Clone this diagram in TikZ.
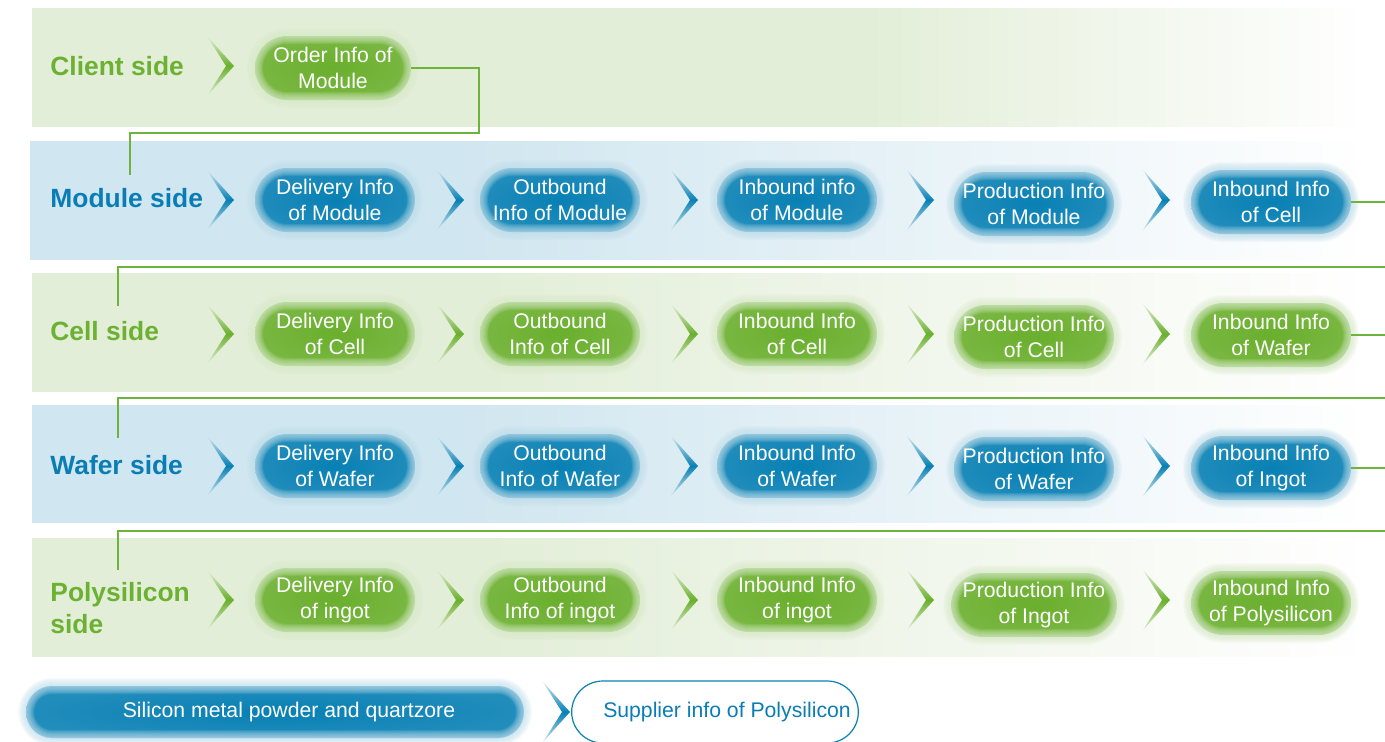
\documentclass[tikz,border=0pt]{standalone}
\usepackage{fontspec}
\setmainfont{Liberation Sans}
\usetikzlibrary{shapes.misc,fadings}

\definecolor{gD}{RGB}{106,175,45}
\definecolor{bD}{RGB}{8,128,180}
\definecolor{gT}{RGB}{108,177,50}
\definecolor{bT}{RGB}{10,126,180}
\definecolor{bgG}{RGB}{226,238,215}
\definecolor{bgB}{RGB}{208,230,240}
\definecolor{linkc}{RGB}{110,180,60}

\newcommand{\pillfont}{\fontsize{10.6}{13}\selectfont}
\newcommand{\chev}[3]{\shade[top color=#3!20!white, bottom color=#3!20!white, middle color=#3] (#1,#2-30) -- (#1+27,#2) -- (#1,#2+30) -- (#1+19,#2) -- cycle;}

\begin{document}
\begin{tikzpicture}[x=0.5pt, y=-0.5pt,
        soft/.style={postaction={draw=#1, line width=8pt, opacity=.14},
          postaction={draw=#1, line width=7pt, opacity=.14},
          postaction={draw=#1, line width=6pt, opacity=.14},
          postaction={draw=#1, line width=5pt, opacity=.14},
          postaction={draw=#1, line width=4pt, opacity=.14},
          postaction={draw=#1, line width=3pt, opacity=.14},
          postaction={draw=#1, line width=2pt, opacity=.14},
          postaction={draw=#1, line width=1pt, opacity=.2}},
        pill/.style={rounded rectangle, minimum width=82pt, minimum height=32pt, inner sep=1pt,
          align=center, text=white, font=\pillfont, inner color=#1, outer color=#1!90!white,
          soft=#1!25!white},
        side/.style={anchor=west, align=left, inner sep=0pt, text=#1, font=\fontsize{13.2}{16}\selectfont\bfseries},
        link/.style={draw=linkc, line width=0.8pt}]
        \useasboundingbox (0,0) rectangle (1385,741);
        % bands
        \fill[bgG] (32,8) rectangle (1356,127);
        \fill[white, path fading=west] (850,8) rectangle (1357,127);
        \fill[bgB] (30,141) rectangle (1356,260);
        \fill[white, path fading=west] (450,141) rectangle (1357,260);
        \fill[bgG] (32,273) rectangle (1356,392);
        \fill[white, path fading=west] (450,273) rectangle (1357,392);
        \fill[bgB] (32,405) rectangle (1356,523);
        \fill[white, path fading=west] (450,405) rectangle (1357,523);
        \fill[bgG] (32,538) rectangle (1356,657);
        \fill[white, path fading=west] (450,538) rectangle (1357,657);

        % side labels
        \node[side=gT] (client) at (50,66) {Client side};
        \node[side=bT] (module) at (50,198) {Module side};
        \node[side=gT] (cell) at (50,331) {Cell side};
        \node[side=bT] (wafer) at (50,465) {Wafer side};
        \node[side=gT] (poly) at (50,608) {Polysilicon\\side};

        % chevrons
        \chev{207}{66}{gD}
        \foreach \y/\c in {200/bD, 334/gD, 466/bD, 600/gD}
          \foreach \x in {207,437,671,907,1143}
            \chev{\x}{\y}{\c};
        \chev{543}{712}{bD}

        % client row
        \node[pill=gD, minimum width=80pt] (order) at (333,68) {Order Info of\\Module};
        % module row
        \node[pill=bD] (delivM) at (335,200) {Delivery Info\\of Module};
        \node[pill=bD] (outM) at (560,200) {Outbound\\Info of Module};
        \node[pill=bD] (inM) at (797,200) {Inbound info\\of Module};
        \node[pill=bD] (prodM) at (1034,204) {Production Info\\of Module};
        \node[pill=bD] (inCell) at (1271,202) {Inbound Info\\of Cell};
        % cell row
        \node[pill=gD] (delivC) at (335,334) {Delivery Info\\of Cell};
        \node[pill=gD] (outC) at (560,334) {Outbound\\Info of Cell};
        \node[pill=gD] (inC) at (797,334) {Inbound Info\\of Cell};
        \node[pill=gD] (prodC) at (1034,337) {Production Info\\of Cell};
        \node[pill=gD] (inWafer) at (1271,335) {Inbound Info\\of Wafer};
        % wafer row
        \node[pill=bD] (delivW) at (335,466) {Delivery Info\\of Wafer};
        \node[pill=bD] (outW) at (560,466) {Outbound\\Info of Wafer};
        \node[pill=bD] (inW) at (797,466) {Inbound Info\\of Wafer};
        \node[pill=bD] (prodW) at (1034,469) {Production Info\\of Wafer};
        \node[pill=bD] (inIngot) at (1271,468) {Inbound Info\\of Ingot};
        % polysilicon row
        \node[pill=gD] (delivP) at (335,600) {Delivery Info\\of ingot};
        \node[pill=gD] (outP) at (560,600) {Outbound\\Info of ingot};
        \node[pill=gD] (inP) at (797,600) {Inbound Info\\of ingot};
        \node[pill=gD] (prodP) at (1034,605) {Production Info\\of Ingot};
        \node[pill=gD] (inPoly) at (1271,603) {Inbound Info\\of Polysilicon};

        % raw material
        \node[pill=bD, minimum width=251pt, minimum height=26pt] (silicon) at (275,712) {\hspace*{14pt}Silicon metal powder and quartzore};
        \node[rounded rectangle, draw=bD, line width=0.6pt, fill=white, text=bT, font=\pillfont,
          minimum width=150pt, minimum height=31pt] (supplier) at (715,712) {\hspace*{12pt}Supplier info of Polysilicon};

        % links
        \coordinate (d0) at (130,175);
        \draw[link] (order.east) -| (479,133) -| (d0);
        \coordinate (r1) at (1385,202);
        \draw[link] (inCell.east) -- (r1);
        \coordinate (e1) at (1385,267);
        \coordinate (d1) at (118,306);
        \draw[link] (e1) -| (d1);
        \coordinate (r2) at (1385,335);
        \draw[link] (inWafer.east) -- (r2);
        \coordinate (e2) at (1385,398);
        \coordinate (d2) at (118,438);
        \draw[link] (e2) -| (d2);
        \coordinate (r3) at (1385,468);
        \draw[link] (inIngot.east) -- (r3);
        \coordinate (e3) at (1385,531);
        \coordinate (d3) at (118,570);
        \draw[link] (e3) -| (d3);
\end{tikzpicture}
\end{document}
